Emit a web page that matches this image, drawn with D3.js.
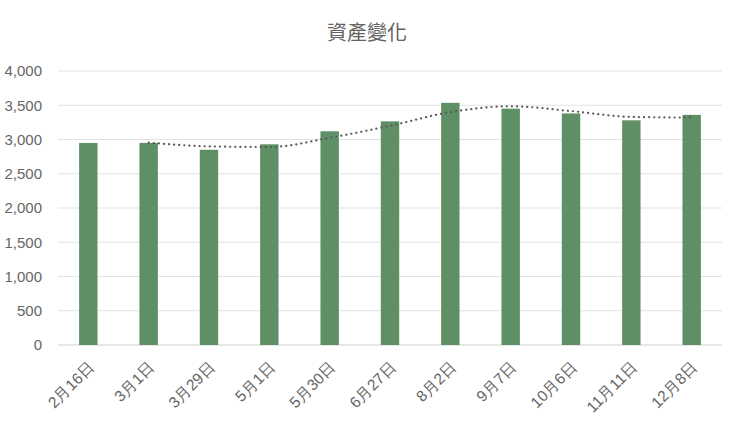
<!DOCTYPE html>
<html>
<head>
<meta charset="utf-8">
<script src="https://cdn.jsdelivr.net/npm/d3@7"></script>
<style>
  body { margin: 0; background: #fff; }
  svg { display: block; font-family: "Liberation Sans", Arial, "Noto Sans CJK TC", sans-serif; }
</style>
</head>
<body>
<svg id="chart" width="740" height="422"></svg>
<script>
// data
const dates = ["2月16日", "3月1日", "3月29日", "5月1日", "5月30日", "6月27日", "8月2日", "9月7日", "10月6日", "11月11日", "12月8日"];
const assets = [2950, 2950, 2850, 2930, 3120, 3265, 3535, 3450, 3380, 3280, 3360];
// dotted trend line (2-period moving average as drawn)
const trend = [null, 2955, 2900, 2890, 3025, 3200, 3400, 3485, 3415, 3330, 3320];
const yTicks = [0, 500, 1000, 1500, 2000, 2500, 3000, 3500, 4000];

const width = 740, height = 422;
const margin = { top: 71, right: 18, bottom: 77, left: 58 };

const svg = d3.select("#chart");

const x = d3.scaleBand()
  .domain(dates)
  .range([margin.left, width - margin.right])
  .paddingInner(0.695)
  .paddingOuter(0.35);

const y = d3.scaleLinear()
  .domain([0, 4000])
  .range([height - margin.bottom, margin.top]);

// title
svg.append("text")
  .attr("x", 367)
  .attr("y", 40)
  .attr("text-anchor", "middle")
  .attr("fill", "#636363")
  .style("font-family", "'Noto Sans CJK TC', sans-serif")
  .style("font-size", "20px")
  .text("資產變化");

// gridlines
svg.append("g")
  .selectAll("line")
  .data(yTicks)
  .enter()
  .append("line")
  .attr("x1", margin.left)
  .attr("x2", width - margin.right)
  .attr("y1", d => y(d))
  .attr("y2", d => y(d))
  .attr("stroke", (d) => (d === 0 ? "#d0d0d0" : "#e2e2e2"))
  .attr("stroke-width", 1.2);

const yAxis = d3.axisLeft(y)
  .tickValues(yTicks)
  .tickFormat(d3.format(","))
  .tickSize(0)
  .tickPadding(16);

svg.append("g")
  .attr("transform", `translate(${margin.left},0)`)
  .call(yAxis)
  .call(g => g.select(".domain").remove())
  .selectAll("text")
  .attr("fill", "#666")
  .style("font-size", "15px");

// bars
svg.append("g")
  .selectAll("rect")
  .data(assets)
  .enter()
  .append("rect")
  .attr("x", (d, i) => x(dates[i]))
  .attr("y", d => y(d))
  .attr("width", x.bandwidth())
  .attr("height", d => y(0) - y(d))
  .attr("fill", "#5e8f65");

// trend line
const line = d3.line()
  .defined(d => d != null)
  .x((d, i) => x(dates[i]) + x.bandwidth() / 2)
  .y(d => y(d))
  .curve(d3.curveMonotoneX);

svg.append("path")
  .datum(trend)
  .attr("d", line)
  .attr("fill", "none")
  .attr("stroke", "#5a5a5a")
  .attr("stroke-width", 2.2)
  .attr("stroke-linecap", "round")
  .attr("stroke-dasharray", "0.1 5");

// x labels
const xAxis = d3.axisBottom(x).tickSize(0).tickPadding(0);

svg.append("g")
  .attr("transform", `translate(0,${height - margin.bottom})`)
  .call(xAxis)
  .call(g => g.select(".domain").remove())
  .selectAll("text")
  .attr("fill", "#666")
  .style("font-size", "15.5px")
  .attr("text-anchor", "end")
  .attr("dy", 0)
  .attr("transform", "translate(7,23) rotate(-45)");
</script>
</body>
</html>
